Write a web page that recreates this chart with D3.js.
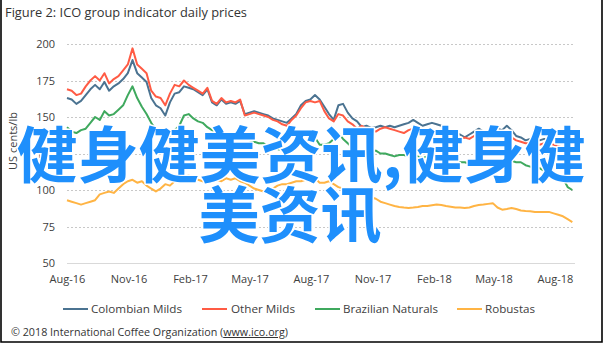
<!DOCTYPE html>
<html>
<head>
<meta charset="utf-8">
<script src="https://cdn.jsdelivr.net/npm/d3@7/dist/d3.min.js"></script>
<style>
  html, body { margin: 0; padding: 0; background: #fff; }
  svg { display: block; }
</style>
</head>
<body>
<svg id="chart" width="604" height="343"></svg>
<script>
// ICO group indicator prices, weekly readings from 1 Aug 2016 (US cents/lb)
const startDate = "2016-08-01";
const endDate = "2018-08-31";

const colombianMilds = [
  163,162,159,161,165,169,172,169,174,168,171,173,176,180,189,180,177,174,163,158,
  156,151,160,166,167,171,170,169,167,165,169,160,158,162,159,160,159,161,152,153,
  154,153,152,151,149,148,147,146,149,152,158,161,162,165,162,157,152,148,158,159,
  153,149,147,143,144,142.5,143,144,143,144,143,144,145,146,148,146,144,145,146,145,
  144,142,140,139,138,136,138,140,142,140,139,144,142,141,144,141,137,136,134,135,
  134,134,135,135,136,134,133,130,127
];

const otherMilds = [
  169,168,165,166,171,175,178,175,180,173,176,178,182,186,197,186,183,180,168,164,
  163,158,166,172,171,175,172,170,168,166,170,161,159,163,160,161,160,162,151,152,
  153,152,151,150,148,147,145,144,148,151,156,160,161,160,161,154,149,147,152,151,
  147,145,142,144,142,141,140,142,143,142,141,140,139,141,142,140,139,140,140,141,
  141,139,137,136,135,136,135,137,139,137,136,141,138,140,139,136,134,133,132,132,
  131,131,132,132,131,130,129,126,123
];

const brazilianNaturals = [
  143,140,139,141,142,146,150,148,154,151,152,155,158,165,171,163,157,152,146,141,
  139,135,137,141,144,151,152,149,147,146,143,141,139,140,138,139,137,136,136,134,
  133,132,132,130,129,128,127,128,130,133,137,140,141,136,131,131,132,135,139,135,
  132,129,127,127,126,126,127,125,125,124,123,124,124,123,124,123,122,123,122,121,
  121,122,121,120,119,119,118,118,119,118,117,117,118,120,122,120,119,119,117,116,
  116,115,113,111,111,110,108,102,100
];

const robustas = [
  93,92,91,90,91,92,93,97,98,99,98,101,104,106,107,105,106,103,101,99,
  101,104,103,106,108,109,110,108,107,106,105,106,107,106,108,107,108,106,105,103,
  101,100,99,99,101,103,104,104,105,106,106,107,108,108,105,105,106,104,102,101,
  100,99,98.6,98,97,95,94,92,91,90,89,88.4,88,87.7,88,88.4,89,89,89.5,90,
  89.7,89,88.5,88,88,87.7,88,89,89.7,90,90.5,91,88,86.5,87,87.7,87,86,85.6,85.5,
  85,85,85,85,84,83,82,80,78
];

const seriesNames = ["Colombian Milds", "Other Milds", "Brazilian Naturals", "Robustas"];
const seriesColors = ["#4b7391", "#ff5b44", "#3fa95e", "#ffb444"];
const seriesValues = [colombianMilds, otherMilds, brazilianNaturals, robustas];

const yTicks = [50, 75, 100, 125, 150, 175, 200];
const xTickLabels = ["Aug-16", "Nov-16", "Feb-17", "May-17", "Aug-17", "Nov-17", "Feb-18", "May-18", "Aug-18"];
const xTickDates = ["2016-08-01", "2016-11-01", "2017-02-01", "2017-05-01", "2017-08-01",
                    "2017-11-01", "2018-02-01", "2018-05-01", "2018-08-01"];

const titleText = "Figure 2: ICO group indicator daily prices";
const yAxisTitle = "US cents/lb";
const footerPrefix = "© 2018 International Coffee Organization (";
const footerLink = "www.ico.org";
const footerSuffix = ")";
const bannerLines = ["健身健美资讯,健身健", "美资讯"];

// ---------------------------------------------------------------
const parse = d3.timeParse("%Y-%m-%d");
const t0 = parse(startDate);
const dates = colombianMilds.map((_, i) => d3.timeDay.offset(t0, 7 * i));

const svg = d3.select("#chart");
const font = "'Open Sans', 'Liberation Sans', sans-serif";
const textColor = "#404040";

const plot = { left: 67, right: 575, top: 44, bottom: 263 };

const x = d3.scaleTime()
  .domain([t0, parse(endDate)])
  .range([plot.left, plot.right]);

const y = d3.scaleLinear()
  .domain([50, 200])
  .range([plot.bottom, plot.top]);

// frame (left, right and bottom edges)
svg.append("path")
  .attr("d", "M1,0 V342 H602 V0")
  .attr("fill", "none")
  .attr("stroke", "#000")
  .attr("stroke-width", 1.6);

// title
svg.append("text")
  .attr("x", 5).attr("y", 17)
  .attr("font-family", font)
  .attr("font-size", 12.5)
  .attr("fill", "#333")
  .attr("textLength", 242)
  .attr("lengthAdjust", "spacingAndGlyphs")
  .text(titleText);

// horizontal gridlines
svg.append("g")
  .selectAll("line")
  .data(yTicks)
  .join("line")
  .attr("x1", plot.left).attr("x2", plot.right)
  .attr("y1", d => Math.round(y(d)) + 0.5)
  .attr("y2", d => Math.round(y(d)) + 0.5)
  .attr("stroke", d => d === 50 ? "#d9d9d9" : "#c8c8c8")
  .attr("stroke-width", 1)
  .attr("stroke-dasharray", d => d === 50 ? null : "2,2");

// y axis labels
const yAxis = d3.axisLeft(y).tickValues(yTicks).tickSize(0).tickPadding(12);
const yg = svg.append("g")
  .attr("transform", `translate(${plot.left},0)`)
  .call(yAxis);
yg.select(".domain").remove();
yg.selectAll("text")
  .attr("font-family", font)
  .attr("font-size", 11)
  .attr("fill", textColor);

// y axis title
svg.append("text")
  .attr("transform", "translate(17,141) rotate(-90)")
  .attr("text-anchor", "middle")
  .attr("font-family", font)
  .attr("font-size", 11)
  .attr("fill", textColor)
  .text(yAxisTitle);

// x axis labels
const xAxis = d3.axisBottom(x)
  .tickValues(xTickDates.map(parse))
  .tickFormat((d, i) => xTickLabels[i])
  .tickSize(0)
  .tickPadding(12);
const xg = svg.append("g")
  .attr("transform", `translate(0,${plot.bottom})`)
  .call(xAxis);
xg.select(".domain").remove();
xg.selectAll("text")
  .attr("font-family", font)
  .attr("font-size", 11)
  .attr("fill", textColor);

// price lines
const line = d3.line()
  .x((d, i) => x(dates[i]))
  .y(d => y(d));

svg.append("g")
  .selectAll("path")
  .data(seriesValues)
  .join("path")
  .attr("d", d => line(d))
  .attr("fill", "none")
  .attr("stroke", (d, i) => seriesColors[i])
  .attr("stroke-width", 2)
  .attr("stroke-linejoin", "round");

// legend
const legendPos = [
  { lx: 63, tx: 91, w: 91 },
  { lx: 202, tx: 231, w: 64 },
  { lx: 315, tx: 343, w: 95 },
  { lx: 457, tx: 485, w: 50 }
];
const legend = svg.append("g").selectAll("g")
  .data(seriesNames)
  .join("g");
legend.append("line")
  .attr("x1", (d, i) => legendPos[i].lx)
  .attr("x2", (d, i) => legendPos[i].lx + 25)
  .attr("y1", 309).attr("y2", 309)
  .attr("stroke", (d, i) => seriesColors[i])
  .attr("stroke-width", 2);
legend.append("text")
  .attr("x", (d, i) => legendPos[i].tx)
  .attr("y", 313)
  .attr("font-family", font)
  .attr("font-size", 11)
  .attr("fill", textColor)
  .attr("textLength", (d, i) => legendPos[i].w)
  .attr("lengthAdjust", "spacingAndGlyphs")
  .text(d => d);

// footer
const foot = svg.append("text")
  .attr("x", 11).attr("y", 336)
  .attr("font-family", font)
  .attr("font-size", 10)
  .attr("fill", "#333")
  .attr("textLength", 277)
  .attr("lengthAdjust", "spacingAndGlyphs");
foot.append("tspan").text(footerPrefix);
foot.append("tspan").attr("text-decoration", "underline").text(footerLink);
foot.append("tspan").text(footerSuffix);

// banner text over the chart
const bannerX = [301, 290];
const banner = svg.append("g")
  .attr("font-family", "'Noto Sans CJK SC', sans-serif")
  .attr("font-weight", "bold")
  .attr("font-size", 61)
  .attr("text-anchor", "middle")
  .attr("fill", "#1e8ffc")
  .attr("stroke", "#ffffff")
  .attr("stroke-width", 3)
  .attr("paint-order", "stroke")
  .attr("stroke-linejoin", "round");
banner.selectAll("text")
  .data(bannerLines)
  .join("text")
  .attr("x", (d, i) => bannerX[i])
  .attr("y", (d, i) => 178 + i * 60)
  .text(d => d);
</script>
</body>
</html>
